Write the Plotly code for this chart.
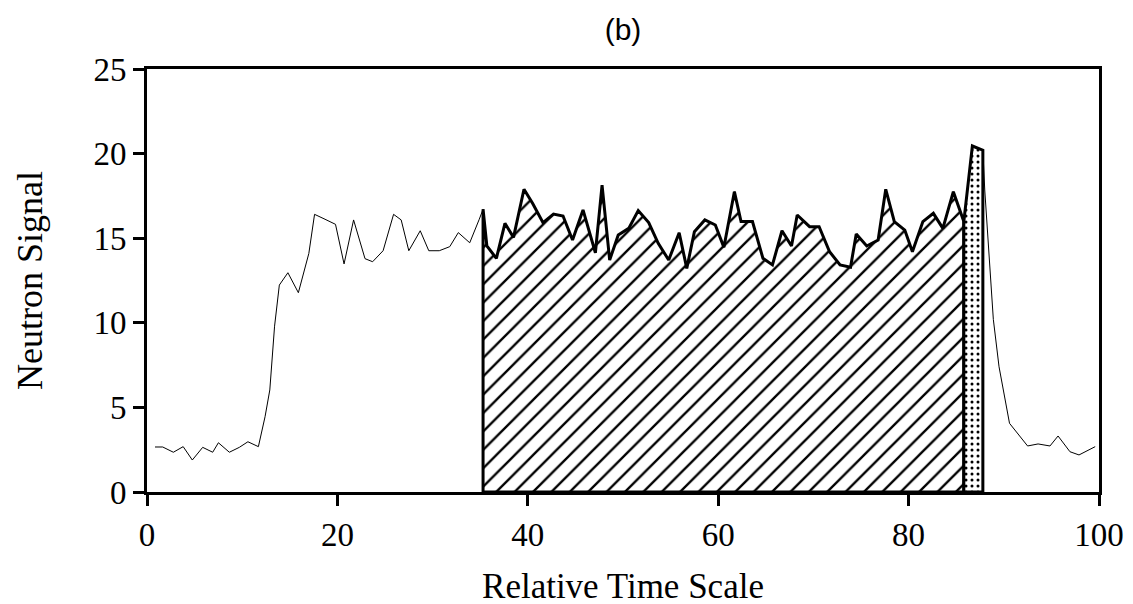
import plotly.graph_objects as go

# ---- data ----
time = [0.84, 1.65, 2.77, 3.8, 4.76, 5.85, 6.9, 7.5, 8.65, 9.7, 10.6, 11.7, 12.4, 12.9, 13.4,
        13.9, 14.8, 15.9, 17.0, 17.6, 18.7, 19.8, 20.7, 21.7, 22.9, 23.7, 24.8, 25.9, 26.7,
        27.5, 28.7, 29.6, 30.7, 31.8, 32.7, 33.9, 34.9, 35.3,
        35.7, 36.7, 37.6, 38.5, 39.6, 40.5, 41.6, 42.7, 43.7, 44.7, 45.8, 47.1, 47.8, 48.6,
        49.5, 50.6, 51.6, 52.7, 53.7, 54.8, 55.9, 56.7, 57.5, 58.6, 59.7, 60.6, 61.7, 62.4,
        63.6, 64.7, 65.7, 66.7, 67.7, 68.3, 69.6, 70.6, 71.7, 72.8, 73.9, 74.5, 75.6, 76.8,
        77.6, 78.5, 79.6, 80.4, 81.5, 82.6, 83.6, 84.7, 85.8,
        86.7, 87.8,
        88.0, 88.9, 89.5, 90.6, 92.5, 93.6, 94.85, 95.7, 96.95, 97.9, 99.6]
signal = [2.66, 2.66, 2.35, 2.68, 1.89, 2.64, 2.35, 2.91, 2.35, 2.64, 2.97, 2.68, 4.45, 6.03, 9.8,
          12.23, 12.96, 11.78, 14.1, 16.41, 16.12, 15.82, 13.48, 16.08, 13.79, 13.61, 14.26, 16.41, 16.08,
          14.26, 15.44, 14.26, 14.26, 14.5, 15.33, 14.73, 16.12, 16.71,
          14.54, 13.81, 15.88, 15.05, 17.89, 17.06, 15.92, 16.43, 16.31, 14.89, 16.67, 14.14, 18.14, 13.71,
          15.19, 15.58, 16.63, 15.92, 14.7, 13.71, 15.32, 13.22, 15.38, 16.08, 15.78, 14.46, 17.75, 15.98,
          15.98, 13.81, 13.42, 15.44, 14.54, 16.37, 15.68, 15.68, 14.2, 13.42, 13.28, 15.25, 14.54, 14.89,
          17.89, 15.98, 15.48, 14.2, 15.98, 16.47, 15.58, 17.75, 15.98,
          20.45, 20.2,
          17.85, 10.2, 7.4, 4.06, 2.72, 2.84, 2.72, 3.31, 2.38, 2.19, 2.68]

hatch_range = [35.3, 85.8]
dot_range = [85.8, 87.8]

x_ticks = [0, 20, 40, 60, 80, 100]
y_ticks = [0, 5, 10, 15, 20, 25]


def region(lo, hi):
    xs = [lo]
    ys = [0]
    for t, s in zip(time, signal):
        if lo - 1e-9 <= t <= hi + 1e-9:
            xs.append(t)
            ys.append(s)
    xs += [hi, lo]
    ys += [0, 0]
    return xs, ys


hx, hy = region(*hatch_range)
dx, dy = region(*dot_range)

fig = go.Figure()
fig.add_trace(go.Scatter(x=time, y=signal, mode="lines",
                         line=dict(color="black", width=1), hoverinfo="skip"))
fig.add_trace(go.Scatter(x=hx, y=hy, mode="lines", fill="toself",
                         fillcolor="white",
                         fillpattern=dict(shape="/", fgcolor="black", bgcolor="white",
                                          fgopacity=1, size=13, solidity=0.18,
                                          fillmode="replace"),
                         line=dict(color="black", width=3), hoverinfo="skip"))
fig.add_trace(go.Scatter(x=dx, y=dy, mode="lines", fill="toself",
                         fillcolor="white",
                         fillpattern=dict(shape=".", fgcolor="black", bgcolor="white",
                                          fgopacity=1, size=6, solidity=0.2,
                                          fillmode="replace"),
                         line=dict(color="black", width=3), hoverinfo="skip"))

axis_common = dict(showline=True, linecolor="black", linewidth=3, mirror=True,
                   ticks="outside", ticklen=11, tickwidth=3, tickcolor="black",
                   showgrid=False, zeroline=False,
                   tickfont=dict(family="Liberation Serif", size=33, color="black"))

fig.update_layout(
    width=1133, height=604,
    margin=dict(l=139, r=42, t=61, b=120),
    paper_bgcolor="white", plot_bgcolor="white",
    showlegend=False,
    title=dict(text="(b)", x=0.5, xref="paper", xanchor="center",
               y=1 - 21 / 604, yref="container", yanchor="middle",
               font=dict(family="Liberation Sans", size=30, color="black")),
    xaxis=dict(range=[0, 100], tickvals=x_ticks,
               title=dict(text="Relative Time Scale", standoff=22,
                          font=dict(family="Liberation Serif", size=35, color="black")),
               **axis_common),
    yaxis=dict(range=[0, 25], tickvals=y_ticks,
               title=dict(text="Neutron Signal", standoff=40,
                          font=dict(family="Liberation Serif", size=36, color="black")),
               **axis_common),
)

fig.write_html("out.html")
